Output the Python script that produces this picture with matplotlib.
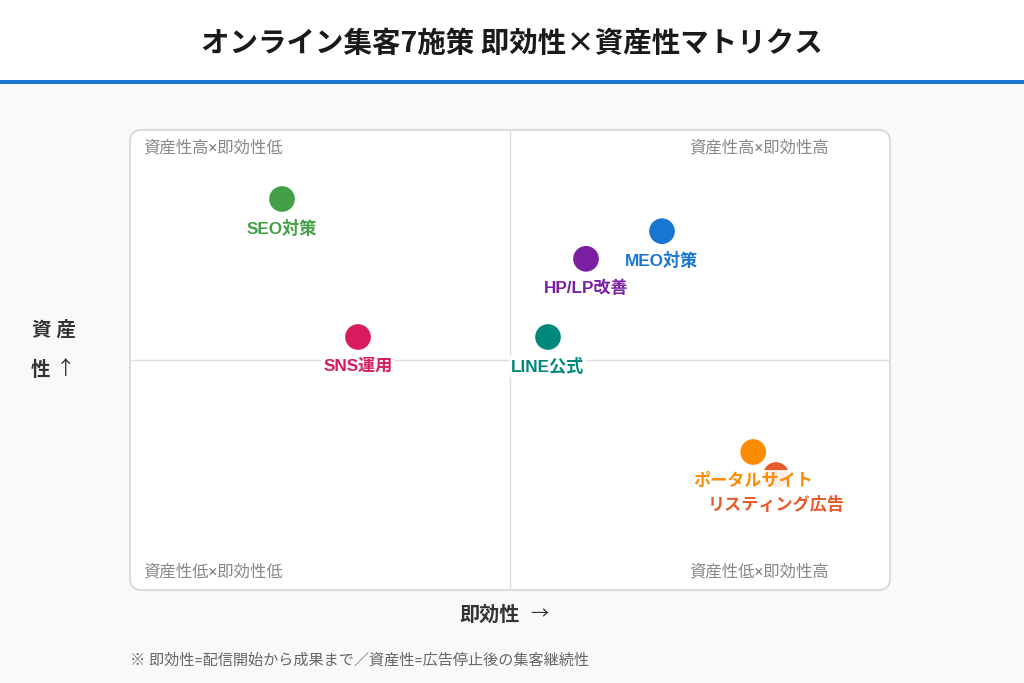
import matplotlib
matplotlib.use("Agg")
import matplotlib.pyplot as plt
from matplotlib.patches import FancyBboxPatch, Rectangle

plt.rcParams['font.family'] = ['Roboto', 'Noto Sans CJK JP', 'DejaVu Sans']
CJK = ['Noto Sans CJK JP', 'DejaVu Sans']
LBL = ['Liberation Sans', 'Noto Sans CJK JP', 'DejaVu Sans']

names = ["SEO対策", "SNS運用", "LINE公式", "HP/LP改善", "MEO対策", "リスティング広告", "ポータルサイト"]
speed = [2.0, 3.0, 5.5, 6.0, 7.0, 8.5, 8.2]      # 即効性
asset = [8.5, 5.5, 5.5, 7.2, 7.8, 2.5, 3.0]      # 資産性
colors = ["#43A047", "#D81B60", "#00897B", "#7B1FA2", "#1976D2", "#E85A2C", "#FB8C00"]
quadrants = ["資産性高×即効性低", "資産性高×即効性高", "資産性低×即効性低", "資産性低×即効性高"]

W, H = 1024, 683
fig = plt.figure(figsize=(W / 100, H / 100), dpi=100)
fig.patch.set_facecolor("#F9F9F9")

def fx(px):
    return px / W

def fy(py):
    return 1 - py / H

# header
fig.patches.append(Rectangle((0, fy(80)), 1, 1 - fy(80), transform=fig.transFigure,
                             facecolor="white", edgecolor="none", zorder=0))
fig.patches.append(Rectangle((0, fy(84)), 1, fy(80) - fy(84), transform=fig.transFigure,
                             facecolor="#1976D2", edgecolor="none", zorder=1))
fig.text(0.5, fy(44), "オンライン集客7施策 即効性×資産性マトリクス", ha="center", va="center",
         fontsize=20.5, fontweight="bold", color="#1a1a1a", family=CJK)

# panel
L, T, R, B = 130, 130, 890, 590
panel = FancyBboxPatch((fx(L), fy(B)), fx(R) - fx(L), fy(T) - fy(B),
                       boxstyle="round,pad=0,rounding_size=0.011",
                       transform=fig.transFigure, facecolor="white",
                       edgecolor="#CFCFCF", linewidth=1.0, zorder=1,
                       mutation_aspect=W / H)
fig.patches.append(panel)

ax = fig.add_axes([fx(L), fy(B), fx(R) - fx(L), fy(T) - fy(B)])
ax.set_zorder(3)
ax.set_xlim(0, 10)
ax.set_ylim(0, 10)
ax.set_facecolor("none")
ax.axis("off")
ax.axvline(5, color="#DDDDDD", lw=1, zorder=1)
ax.axhline(5, color="#DDDDDD", lw=1, zorder=1)

ax.scatter(speed, asset, s=380, c=colors, zorder=3, edgecolors="white", linewidths=1.0)
for n, x, y, c in zip(names, speed, asset, colors):
    ax.annotate(n, (x, y), xytext=(0, -29), textcoords="offset pixels",
                ha="center", va="center", fontsize=12.3, fontweight="bold", color=c,
                family=LBL, zorder=5,
                bbox=dict(boxstyle="square,pad=0.15", facecolor="white",
                          edgecolor="none", alpha=0.9))

qc = "#888888"
qfs = 11.8
fig.text(fx(143), fy(148), quadrants[0], ha="left", va="center", fontsize=qfs, color=qc, zorder=5)
fig.text(fx(829), fy(148), quadrants[1], ha="right", va="center", fontsize=qfs, color=qc, zorder=5)
fig.text(fx(143), fy(572), quadrants[2], ha="left", va="center", fontsize=qfs, color=qc, zorder=5)
fig.text(fx(829), fy(572), quadrants[3], ha="right", va="center", fontsize=qfs, color=qc, zorder=5)

# axis titles
ykw = dict(ha="center", va="center", fontsize=14, color="#333333")
fig.text(fx(54), fy(330), "資 産", fontweight="bold", **ykw)
fig.text(fx(40), fy(370), "性", fontweight="bold", **ykw)
fig.text(fx(66), fy(369), "↑", fontweight="normal", **ykw)

fig.text(fx(490), fy(615), "即効性", ha="center", va="center", fontsize=14.5,
         fontweight="bold", color="#333333")
fig.text(fx(539), fy(614), "→", ha="center", va="center", fontsize=13,
         fontweight="normal", color="#333333")

fig.text(fx(130), fy(660), "※ 即効性=配信開始から成果まで／資産性=広告停止後の集客継続性",
         ha="left", va="center", fontsize=10.9, color="#666666")

fig.savefig("out.png", dpi=100, facecolor=fig.get_facecolor())
